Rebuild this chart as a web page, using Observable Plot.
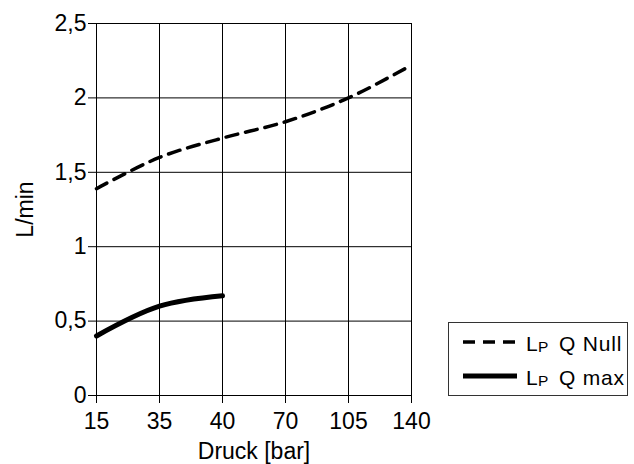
<!DOCTYPE html>
<html><head><meta charset="utf-8">
<script src="https://cdn.jsdelivr.net/npm/d3@7"></script>
<script src="https://cdn.jsdelivr.net/npm/@observablehq/plot@0.6"></script>
<style>
body{margin:0;background:#fff;font-family:"Liberation Sans",Arial,sans-serif;}
#wrap{position:relative;width:634px;height:464px;}
#legend{position:absolute;left:448px;top:322px;}
</style></head>
<body><div id="wrap"></div>
<script>
const pressures = ["15","35","40","70","105","140"];
const qNull = [1.39, 1.60, 1.73, 1.84, 2.00, 2.22];
const qMax = [0.40, 0.60, 0.67];
const yTicks = [0, 0.5, 1, 1.5, 2, 2.5];
const seriesNames = ["Q Null", "Q max"];

const nullData = qNull.map((v, i) => ({p: pressures[i], v}));
const maxData = qMax.map((v, i) => ({p: pressures[i], v}));

const chart = Plot.plot({
  width: 634,
  height: 464,
  marginLeft: 96,
  marginRight: 223,
  marginTop: 23,
  marginBottom: 69,
  style: {fontFamily: '"Liberation Sans", Arial, sans-serif', fontSize: "23px", color: "#000", background: "#fff"},
  x: {type: "point", domain: pressures, padding: 0, label: "Druck [bar]", labelAnchor: "center", labelArrow: "none", tickSize: 8, tickPadding: 9, labelOffset: 63},
  y: {domain: [0, 2.5], ticks: yTicks, label: "L/min", labelAnchor: "center", labelArrow: "none", tickSize: 8, tickPadding: 2, labelOffset: 80,
      tickFormat: d => String(d).replace(".", ",")},
  marks: [
    Plot.gridX(pressures, {stroke: "#000", strokeOpacity: 1, strokeWidth: 1}),
    Plot.gridY(yTicks, {stroke: "#000", strokeOpacity: 1, strokeWidth: 1}),
    Plot.frame({stroke: "#000"}),
    Plot.line(nullData, {x: "p", y: "v", stroke: "#000", strokeWidth: 3.5, strokeDasharray: "12,8", curve: "catmull-rom"}),
    Plot.line(maxData, {x: "p", y: "v", stroke: "#000", strokeWidth: 5, curve: "catmull-rom"})
  ]
});
const wrap = document.getElementById("wrap");
wrap.appendChild(chart);

const lw = 180, lh = 74;
const leg = d3.select(wrap).append("svg").attr("id", "legend").attr("width", lw).attr("height", lh)
  .style("font-family", '"Liberation Sans", Arial, sans-serif');
leg.append("rect").attr("x", 0.5).attr("y", 0.5).attr("width", lw - 1).attr("height", lh - 1)
  .attr("fill", "#fff").attr("stroke", "#333");
const rows = [{name: seriesNames[0], dash: "12,8", w: 3.5}, {name: seriesNames[1], dash: null, w: 5}];
rows.forEach((r, i) => {
  const cy = 20 + i * 34;
  leg.append("line").attr("x1", 15).attr("x2", 69).attr("y1", cy).attr("y2", cy)
    .attr("stroke", "#000").attr("stroke-width", r.w).attr("stroke-dasharray", r.dash);
  const t = leg.append("text").attr("y", cy + 9).attr("font-size", 21).attr("fill", "#000");
  t.append("tspan").attr("x", 78).text("L");
  t.append("tspan").attr("x", 90).attr("font-size", 15.5).attr("dy", 1).text("P");
  t.append("tspan").attr("x", 111).attr("dy", -1).attr("letter-spacing", 0.8).text(r.name);
});
</script>
</body></html>
